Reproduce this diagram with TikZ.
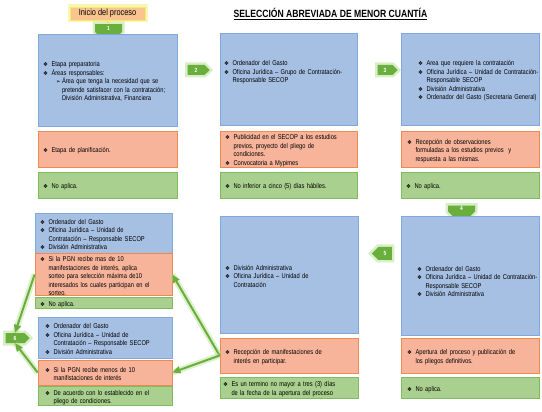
\documentclass[tikz,border=0pt]{standalone}
\usepackage{fontspec}
\setmainfont{Liberation Sans}[FakeStretch=0.82]
\newfontfamily\symf{DejaVu Sans}
\usetikzlibrary{shapes.symbols,arrows.meta}

\definecolor{bluefill}{HTML}{A6C0E4}
\definecolor{blueline}{HTML}{80A8DD}
\definecolor{orfill}{HTML}{F7B49B}
\definecolor{orline}{HTML}{EE8A4F}
\definecolor{grfill}{HTML}{A9D08E}
\definecolor{grline}{HTML}{80BA5E}
\definecolor{chev}{HTML}{6AAE3E}
\definecolor{glow}{HTML}{A8DA7C}
\definecolor{startfill}{HTML}{F9C48E}
\definecolor{startglow}{HTML}{F2EC6E}

% bullets and items
\newcommand\bul{\makebox[8.5pt][l]{\symf\fontsize{5.5}{5}\selectfont ❖}}
\newcommand\itm[1]{\par\noindent\hangindent=8.5pt\hangafter=1\bul#1\par}
\newcommand\sitm[1]{\par\noindent\hangindent=19pt\hangafter=1\hspace*{13pt}%
  \makebox[6pt][l]{\symf\fontsize{5.5}{5}\selectfont ➢}#1\par}
\newcommand\ragl[1]{\raggedright\leftskip=#1pt\relax}
\newcommand\jusl[2]{\leftskip=#1pt\rightskip=#2pt\relax}

\begin{document}
\begin{tikzpicture}[x=1pt,y=-1pt,
  box/.style={rectangle, inner xsep=0pt, inner ysep=0pt, line width=0.8pt,
    font=\fontsize{7}{8.5}\selectfont},
  bluebox/.style={box, draw=blueline, fill=bluefill},
  orbox/.style={box, draw=orline, fill=orfill},
  grbox/.style={box, draw=grline, fill=grfill},
  chevron/.style={signal, fill=chev, text=white, inner sep=0pt,
    font=\fontsize{6}{6}\selectfont\bfseries,
    preaction={draw=glow, fill=glow, line width=5pt, opacity=.45}},
  flow/.style={draw=chev, line width=2pt, -{Triangle[length=8pt,width=7pt]},
    preaction={draw=glow, line width=6pt, opacity=.4, -}}
]
\useasboundingbox (0,0) rectangle (542,412);

% ===================== Header =====================
\node[font=\fontsize{10.5}{12}\selectfont\bfseries] (title) at (330.5,14)
  {\underline{SELECCIÓN ABREVIADA DE MENOR CUANTÍA}};
\node[rectangle, fill=startfill, draw=startglow, line width=0.8pt,
  minimum width=75pt, minimum height=13pt, inner sep=0pt,
  font=\fontsize{9}{10}\selectfont,
  preaction={draw=startglow, line width=5pt, opacity=.5}] (start) at (107.5,13.5)
  {Inicio del proceso};

% chevrons
\node[chevron, signal to=south, minimum width=27pt, minimum height=9pt] (c1) at (108.5,28) {1};
\node[chevron, signal to=east, minimum width=22pt, minimum height=10pt] (c2) at (196,70) {2};
\node[chevron, signal to=east, minimum width=20pt, minimum height=10pt] (c3) at (385,70) {3};
\node[chevron, signal to=south, minimum width=27pt, minimum height=7pt] (c4) at (461.5,208.5) {4};
\node[chevron, signal to=west, minimum width=20pt, minimum height=13pt] (c5) at (385,253.5) {5};
\node[chevron, signal to=east, minimum width=24pt, minimum height=10pt] (c6) at (15,338) {6};

\draw[startglow, line width=1.5pt, -{Triangle[length=3pt,width=5pt]}] (start) -- (c1);

% ===================== Column 1 =====================
\node[bluebox, text width=139pt, minimum height=92pt] (b1) at (107.5,80)
  {\jusl{5}{4}\itm{Etapa preparatoria}\itm{Áreas responsables:}%
   \sitm{Área que tenga la necesidad que se\linebreak pretende satisfacer con la contratación;\linebreak División Administrativa, Financiera}};
\node[orbox, text width=139pt, minimum height=36pt] (o1) at (107.5,149)
  {\ragl{5}\itm{Etapa de planificación.}};
\node[grbox, text width=139pt, minimum height=26pt] (g1) at (107.5,185)
  {\ragl{5}\itm{No aplica.}};

% ===================== Column 2 =====================
\node[bluebox, text width=137pt, minimum height=92pt] (b2) at (288.5,79)
  {\jusl{4}{1.5}\itm{Ordenador del Gasto}%
   \itm{Oficina Jurídica – Grupo de Contratación-\linebreak Responsable SECOP}\vspace{9pt}\null};
\node[orbox, text width=137pt, minimum height=36pt] (o2) at (288.5,149)
  {\ragl{5}\itm{Publicidad en el SECOP a los estudios\newline previos, proyecto del pliego de\newline condiciones.}%
   \itm{Convocatoria a Mypimes}};
\node[grbox, text width=137pt, minimum height=26pt] (g2) at (288.5,185)
  {\ragl{5}\itm{No inferior a cinco (5) días hábiles.}};

% ===================== Column 3 =====================
\node[bluebox, text width=138pt, minimum height=92pt] (b3) at (470,79)
  {\ragl{17}\itm{Area que requiere la contratación}%
   \itm{Oficina Jurídica – Unidad de Contratación-\newline Responsable SECOP}%
   \itm{División Administrativa}\itm{Ordenador del Gasto (Secretaria General)}};
\node[orbox, text width=138pt, minimum height=36pt] (o3) at (470,149)
  {\ragl{6}\itm{Recepción de observaciones\newline formuladas a los estudios previos~ y\newline respuesta a las mismas.}};
\node[grbox, text width=138pt, minimum height=26pt] (g3) at (470,185)
  {\ragl{5}\itm{No aplica.}};

% ===================== Column 3, lower =====================
\node[bluebox, text width=138pt, minimum height=119pt] (b4) at (470,275.5)
  {\ragl{16}\vspace*{9pt}\itm{Ordenador del Gasto}%
   \itm{Oficina Jurídica – Unidad de Contratación-\newline Responsable SECOP}%
   \itm{División Administrativa}};
\node[orbox, text width=138pt, minimum height=35pt] (o4) at (470,355.5)
  {\ragl{6}\itm{Apertura del proceso y publicación de\newline los pliegos definitivos.}};
\node[grbox, text width=138pt, minimum height=21pt] (g4) at (470,387.5)
  {\ragl{6}\itm{No aplica.}};

% ===================== Column 2, lower =====================
\node[bluebox, text width=138pt, minimum height=117pt] (b5) at (289,274.5)
  {\ragl{5}\itm{División Administrativa}\itm{Oficina Jurídica – Unidad de\newline Contratación}};
\node[orbox, text width=138pt, minimum height=35pt] (o5) at (289,355.5)
  {\ragl{5}\itm{Recepción de manifestaciones de\newline interés en participar.}};
\node[grbox, text width=138pt, minimum height=21pt] (g5) at (289,387.5)
  {\ragl{3}\itm{Es un termino no mayor a tres (3) días\newline de la fecha de la apertura del proceso}};

% ===================== Column 1, lower =====================
\node[bluebox, text width=137pt, minimum height=40pt] (b6) at (103.5,233)
  {\ragl{5}\itm{Ordenador del Gasto}\itm{Oficina Jurídica – Unidad de\newline Contratación – Responsable SECOP}%
   \itm{División Administrativa}};
\node[orbox, text width=137pt, minimum height=41pt] (o6) at (103.5,274.5)
  {\jusl{5}{4}\itm{Si la PGN recibe mas de 10\linebreak manifestaciones de interés, aplica\linebreak sorteo para selección máxima de10\linebreak interesados los cuales participan en el\linebreak sorteo.}};
\node[grbox, text width=137pt, minimum height=11pt] (g6) at (103.5,302.5)
  {\ragl{5}\itm{No aplica.}};

\node[bluebox, text width=134pt, minimum height=41pt] (b7) at (105,337.5)
  {\ragl{7}\itm{Ordenador del Gasto}\itm{Oficina Jurídica – Unidad de\newline Contratación – Responsable SECOP}%
   \itm{División Administrativa}};
\node[orbox, text width=134pt, minimum height=25pt] (o7) at (105,372.5)
  {\ragl{7}\itm{Si la PGN recibe menos de 10\newline manifistaciones de interés}};
\node[grbox, text width=134pt, minimum height=18pt] (g7) at (105,396)
  {\ragl{7}\itm{De acuerdo con lo establecido en el\newline pliego de condiciones.}};

% arrows
\draw[flow] (o5.west) -- (o6.east);
\draw[flow] (o5.west) -- (o7.east);
\draw[flow] (o6.west) -- (c6.north);
\draw[flow] (o7.west) -- (c6.south);

\end{tikzpicture}
\end{document}
